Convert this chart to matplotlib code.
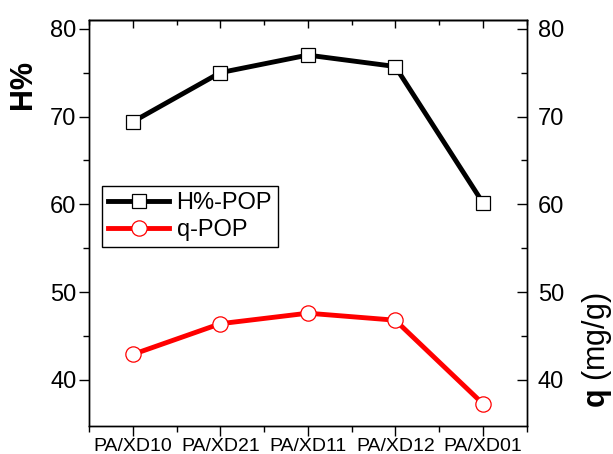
import matplotlib
matplotlib.use("Agg")
from matplotlib import pyplot as plt
import numpy as np

plt.rcParams['font.family'] = ['Liberation Sans', 'DejaVu Sans']
plt.rcParams['mathtext.fontset'] = 'custom'
plt.rcParams['mathtext.rm'] = 'Liberation Sans'
plt.rcParams['mathtext.bf'] = 'Liberation Sans:bold'

samples = ["PA/XD10", "PA/XD21", "PA/XD11", "PA/XD12", "PA/XD01"]
h_pop = [69.4, 75.0, 77.0, 75.7, 60.2]
q_pop = [42.9, 46.4, 47.6, 46.8, 37.3]

x = np.arange(1, len(samples) + 1)

fig = plt.figure(figsize=(6.13, 4.54), dpi=100)
ax = fig.add_axes([0.1452, 0.0617, 0.7137, 0.8943])
ax2 = ax.twinx()

l1, = ax.plot(x, h_pop, color="black", lw=3.5, marker="s", ms=10,
              mfc="white", mec="black", mew=0.9, label="H%-POP")
l2, = ax2.plot(x, q_pop, color="red", lw=3.5, marker="o", ms=11,
               mfc="white", mec="red", mew=0.9, label="q-POP")

ylim = (34.75, 81.0)
ax.set_ylim(*ylim)
ax2.set_ylim(*ylim)
ax.set_xlim(0.5, 5.5)

ax.set_xticks(x, samples, fontsize=14)
ax.set_xticks(np.arange(0.5, 6.0, 1.0), minor=True)
ax.set_yticks([40, 50, 60, 70, 80])
ax.set_yticks([45, 55, 65, 75], minor=True)
ax2.set_yticks([40, 50, 60, 70, 80])
ax2.set_yticks([45, 55, 65, 75], minor=True)

ax.tick_params(axis="y", which="major", direction="out", length=7, width=1, labelsize=17, pad=2)
ax.tick_params(axis="y", which="minor", direction="out", length=4, width=1)
ax.tick_params(axis="x", which="major", direction="out", length=7, width=1, pad=2)
ax.tick_params(axis="x", which="minor", direction="out", length=4, width=1)
ax2.tick_params(axis="y", which="major", direction="in", length=7, width=1, labelsize=17, pad=8)
ax2.tick_params(axis="y", which="minor", direction="in", length=4, width=1)

# inward ticks along the top edge, no labels
top = ax.secondary_xaxis("top")
top.set_xticks(x, [""] * len(x))
top.set_xticks(np.arange(0.5, 6.0, 1.0), minor=True)
top.tick_params(which="major", direction="in", length=6, width=1)
top.tick_params(which="minor", direction="in", length=3.5, width=1)

for a in (ax, ax2, top):
    for s in a.spines.values():
        s.set_linewidth(1.0)

ax.text(-0.15, 0.84, "H%", transform=ax.transAxes, rotation=90,
        ha="center", va="center", fontsize=22, fontweight="bold")
ax.text(1.161, 0.187, r"$\mathbf{q}$ (mg/g)", transform=ax.transAxes, rotation=90,
        ha="center", va="center", fontsize=22)

leg = ax.legend(handles=[l1, l2], loc="upper left", bbox_to_anchor=(0.03, 0.59),
                borderaxespad=0, fontsize=17, handlelength=2.6, handletextpad=0.3,
                borderpad=0.25, labelspacing=0.2, fancybox=False, framealpha=1,
                edgecolor="black")
leg.get_frame().set_linewidth(1.0)

fig.savefig("out.png", dpi=100)
